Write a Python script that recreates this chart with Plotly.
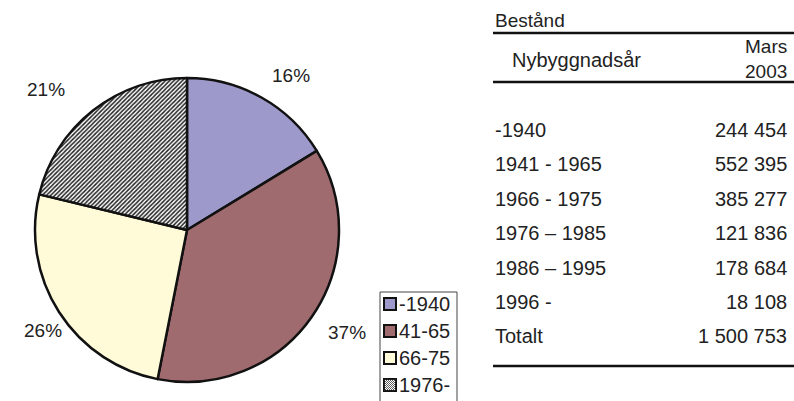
import plotly.graph_objects as go

# ---- data ----
legend_labels = ["-1940", "41-65", "66-75", "1976-"]
table_years = ["-1940", "1941 - 1965", "1966 - 1975", "1976 \u2013 1985", "1986 \u2013 1995", "1996 -"]
table_values = [244454, 552395, 385277, 121836, 178684, 18108]
total_value = 1500753
pie_values = [table_values[0], table_values[1], table_values[2], sum(table_values[3:])]

colors = ["#9d99cb", "#9f6b6f", "#fffbd8", "#ffffff"]

W, H = 794, 401
FONT = "Liberation Sans, Arial, Helvetica, sans-serif"
FS = 20
TXT = "#222222"


def px(x):
    return x / W


def py(y):
    return 1 - y / H


cx, cy, R = 187, 230, 152

fig = go.Figure()
fig.add_trace(go.Pie(
    values=pie_values,
    labels=legend_labels,
    sort=False,
    direction="clockwise",
    rotation=0,
    textinfo="none",
    hoverinfo="label+percent",
    showlegend=False,
    marker=dict(
        colors=colors,
        line=dict(color="#111111", width=2.5),
        pattern=dict(shape=["", "", "", "/"], fgcolor="#222222", bgcolor="#ffffff",
                     size=3, solidity=0.5),
    ),
    domain=dict(x=[px(cx - R), px(cx + R)], y=[py(cy + R), py(cy - R)]),
))

ann = []
shapes = []

# percentage labels (text from data, placement as in the reference)
label_pos = [(291, 76), (347, 332), (43, 330), (46, 89)]
tot = sum(pie_values)
for v, (lx, ly) in zip(pie_values, label_pos):
    ann.append(dict(x=px(lx), y=py(ly), xref="paper", yref="paper",
                    text=f"{round(100 * v / tot)}%", showarrow=False,
                    xanchor="center", yanchor="middle",
                    font=dict(size=FS - 1, color=TXT, family=FONT)))

# manual legend (box open at bottom, cut by the edge)
lx0, lx1, ly0 = 380, 457, 292
shapes.append(dict(type="path", xref="paper", yref="paper",
                   path=f"M {px(lx0)} {py(410)} L {px(lx0)} {py(ly0)} L {px(lx1)} {py(ly0)} L {px(lx1)} {py(410)}",
                   line=dict(color="#444444", width=1)))
row_y = [304, 331, 358, 385]
for i, lab in enumerate(legend_labels):
    yc = row_y[i]
    sx0, sx1 = 384, 396
    shapes.append(dict(type="rect", xref="paper", yref="paper",
                       x0=px(sx0), x1=px(sx1), y0=py(yc + 6), y1=py(yc - 6),
                       fillcolor=colors[i], line=dict(color="#111111", width=2)))
    if i == 3:
        p = ""
        for k in range(-12, 13, 2):
            xa, ya = sx0 + k, yc + 6
            xb, yb = sx0 + k + 12, yc - 6
            if xa < sx0:
                ya -= (sx0 - xa); xa = sx0
            if xb > sx1:
                yb += (xb - sx1); xb = sx1
            if xa < xb:
                p += f"M {px(xa)} {py(ya)} L {px(xb)} {py(yb)} "
        shapes.append(dict(type="path", xref="paper", yref="paper", path=p,
                           line=dict(color="#333333", width=0.8)))
    ann.append(dict(x=px(397), y=py(yc), xref="paper", yref="paper", text=lab,
                    showarrow=False, xanchor="left", yanchor="middle",
                    font=dict(size=FS, color=TXT, family=FONT)))

# table
tx0, tx1 = 493, 794
vx = 789
ann.append(dict(x=px(tx0), y=py(20), xref="paper", yref="paper", text="Best\u00e5nd",
                showarrow=False, xanchor="left", yanchor="middle",
                font=dict(size=FS - 1, color=TXT, family=FONT)))
ann.append(dict(x=px(510), y=py(60), xref="paper", yref="paper", text="Nybyggnads\u00e5r",
                showarrow=False, xanchor="left", yanchor="middle",
                font=dict(size=FS, color=TXT, family=FONT)))
ann.append(dict(x=px(vx), y=py(59), xref="paper", yref="paper", text="Mars<br>2003",
                showarrow=False, xanchor="right", yanchor="middle", align="right",
                font=dict(size=FS - 1, color=TXT, family=FONT)))
for yv in (33, 82, 366):
    shapes.append(dict(type="line", xref="paper", yref="paper",
                       x0=px(tx0), x1=px(tx1), y0=py(yv), y1=py(yv),
                       line=dict(color="#111111", width=2.5)))


def fmt(n):
    return f"{n:,}".replace(",", " ")


rows_lab = table_years + ["Totalt"]
rows_val = table_values + [total_value]
for i, (lab, val) in enumerate(zip(rows_lab, rows_val)):
    yc = 130 + i * 34.4
    ann.append(dict(x=px(tx0), y=py(yc), xref="paper", yref="paper", text=lab,
                    showarrow=False, xanchor="left", yanchor="middle",
                    font=dict(size=FS, color=TXT, family=FONT)))
    ann.append(dict(x=px(vx), y=py(yc), xref="paper", yref="paper", text=fmt(val),
                    showarrow=False, xanchor="right", yanchor="middle",
                    font=dict(size=FS, color=TXT, family=FONT)))

fig.update_layout(
    width=W, height=H,
    margin=dict(l=0, r=0, t=0, b=0),
    paper_bgcolor="white", plot_bgcolor="white",
    annotations=ann, shapes=shapes,
    showlegend=False,
)
fig.write_html(
    "out.html",
    config={"displayModeBar": False},
    post_script="document.body.style.margin='0';document.body.style.overflow='hidden';",
)
